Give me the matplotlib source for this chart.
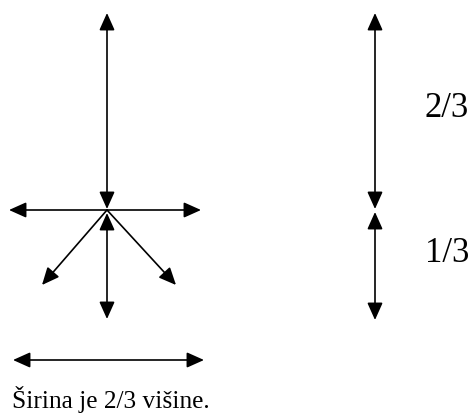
import matplotlib
matplotlib.use('Agg')
import matplotlib.pyplot as plt
from matplotlib.patches import FancyArrowPatch

# krajevi strelica (x0, y0, x1, y1) u pikselima slike
dvostrane = [
    (107, 13, 107, 209),   # gore
    (9, 210, 201, 210),    # vodoravno
    (107, 213, 107, 319),  # dolje
    (13, 360, 204, 360),   # sirina
    (375, 13, 375, 209),   # 2/3
    (375, 212, 375, 320),  # 1/3
]
jednostrane = [
    (107, 210, 42, 285),   # dijagonala lijevo
    (107, 210, 176, 285),  # dijagonala desno
]
oznake = ['2/3', '1/3']
oznake_y = [108, 253]
natpis = 'Širina je 2/3 višine.'

fig = plt.figure(figsize=(4.72, 4.17), dpi=100)
ax = fig.add_axes([0, 0, 1, 1])
ax.set_xlim(0, 472)
ax.set_ylim(417, 0)
ax.axis('off')

for lista, stil in [(dvostrane, '<|-|>'), (jednostrane, '-|>')]:
    for x0, y0, x1, y1 in lista:
        a = FancyArrowPatch((x0, y0), (x1, y1),
                            arrowstyle=stil + ',head_length=10.5,head_width=4.7',
                            mutation_scale=1, shrinkA=0, shrinkB=0,
                            lw=1.2, color='black')
        ax.add_patch(a)

for t, y in zip(oznake, oznake_y):
    ax.text(425, y, t, fontsize=25, family='Liberation Serif', va='center', ha='left')

ax.text(12, 408, natpis, fontsize=18.3, family='Liberation Serif', va='baseline', ha='left')

plt.savefig('out.png', dpi=100)
